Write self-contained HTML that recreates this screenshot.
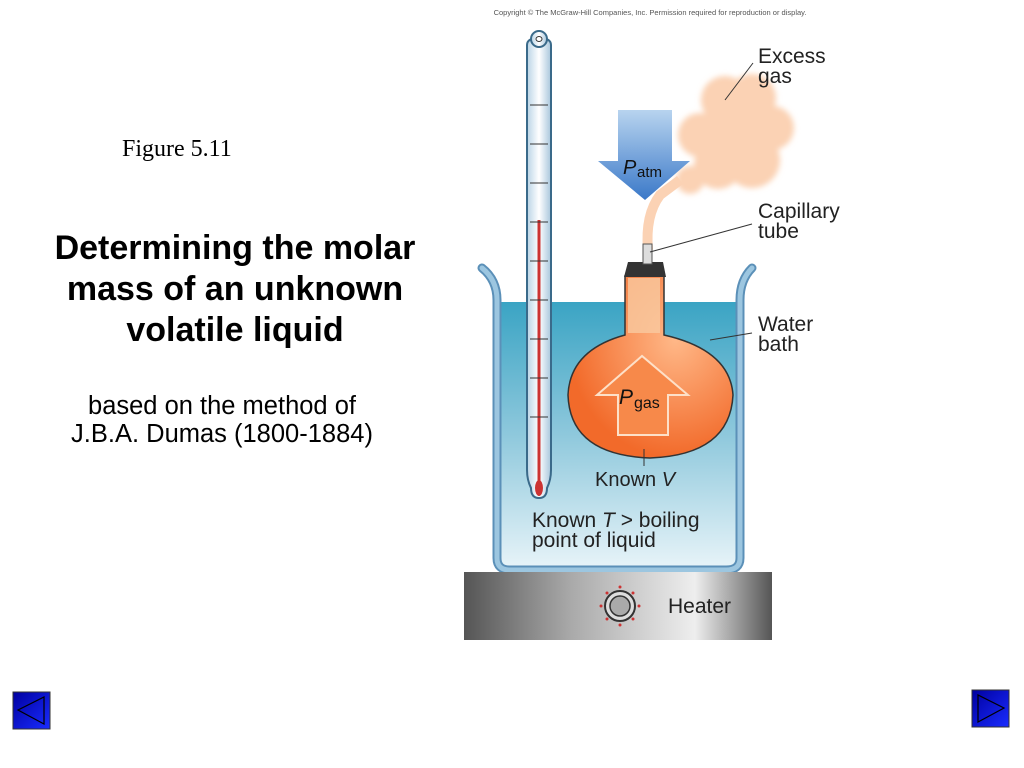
<!DOCTYPE html>
<html><head><style>
html,body{margin:0;padding:0;background:#fff;}
body{width:1024px;height:768px;position:relative;overflow:hidden;font-family:"Liberation Sans",sans-serif;}
.t{position:absolute;text-align:center;}
</style></head><body>
<div class="t" style="left:122px;top:136px;font-family:'Liberation Serif',serif;font-size:24px;">Figure 5.11</div>
<div class="t" style="left:15px;top:228px;width:440px;font-size:34px;font-weight:bold;line-height:41px;">Determining the molar mass of an unknown volatile liquid</div>
<div class="t" style="left:20px;top:392px;width:404px;font-size:25.5px;line-height:28px;">based on the method of<br>J.B.A. Dumas (1800-1884)</div>
<svg width="1024" height="768" style="position:absolute;left:0;top:0" font-family="Liberation Sans, sans-serif">
<defs>
<linearGradient id="water" x1="0" y1="0" x2="0" y2="1"><stop offset="0" stop-color="#3aa4c4"/><stop offset="0.5" stop-color="#8ec8dc"/><stop offset="1" stop-color="#e6f3f8"/></linearGradient>
<linearGradient id="heat" x1="0" y1="0" x2="1" y2="0"><stop offset="0" stop-color="#555"/><stop offset="0.35" stop-color="#aaa"/><stop offset="0.75" stop-color="#eee"/><stop offset="1" stop-color="#555"/></linearGradient>
<radialGradient id="bulb" cx="0.65" cy="0.35" r="0.65"><stop offset="0" stop-color="#ffb888"/><stop offset="1" stop-color="#f26a2a"/></radialGradient>
<linearGradient id="arr" x1="0" y1="0" x2="0" y2="1"><stop offset="0" stop-color="#b8d4ef"/><stop offset="1" stop-color="#3a78c8"/></linearGradient>
<linearGradient id="therm" x1="0" y1="0" x2="1" y2="0"><stop offset="0" stop-color="#b9d4e6"/><stop offset="0.5" stop-color="#fff"/><stop offset="1" stop-color="#a8c6dc"/></linearGradient>
<linearGradient id="btn" x1="0" y1="0" x2="1" y2="1"><stop offset="0" stop-color="#0000a0"/><stop offset="1" stop-color="#1a2cff"/></linearGradient>
<filter id="blur"><feGaussianBlur stdDeviation="3"/></filter>
</defs>
<text x="650" y="15" font-size="7.5" fill="#555" text-anchor="middle">Copyright © The McGraw-Hill Companies, Inc. Permission required for reproduction or display.</text>
<g fill="#fbd2b4" filter="url(#blur)">
<circle cx="725" cy="100" r="24"/><circle cx="752" cy="98" r="24"/><circle cx="772" cy="128" r="22"/><circle cx="752" cy="160" r="28"/><circle cx="718" cy="165" r="24"/><circle cx="700" cy="135" r="22"/><circle cx="738" cy="130" r="32"/><circle cx="690" cy="180" r="14"/>
</g>
<path d="M648 250 Q645 215 660 195 L680 180" stroke="#fbd2b4" stroke-width="10" fill="none"/>
<line x1="725" y1="100" x2="753" y2="63" stroke="#333" stroke-width="1"/>
<path d="M618 110 H672 V161 H690 L645 200 L598 161 H618 Z" fill="url(#arr)"/>
<text x="623" y="174" font-size="20" font-style="italic" fill="#111">P</text><text x="637" y="177" font-size="15" fill="#111">atm</text>
<path d="M493 302 H740 V555 Q740 566 728 566 H508 Q497 566 497 555 Z" fill="url(#water)"/>
<path d="M482 268 Q497 280 497 300 V558 Q497 570 510 570 H726 Q740 570 740 558 V300 Q740 280 752 268" fill="none" stroke="#5b90b8" stroke-width="9" stroke-linecap="round"/>
<path d="M482 268 Q497 280 497 300 V558 Q497 570 510 570 H726 Q740 570 740 558 V300 Q740 280 752 268" fill="none" stroke="#9cc6e0" stroke-width="5" stroke-linecap="round"/>
<rect x="464" y="572" width="308" height="68" fill="url(#heat)"/>
<circle cx="620" cy="606" r="15" fill="#ddd" stroke="#333" stroke-width="2"/>
<circle cx="620" cy="606" r="10" fill="#aaa" stroke="#333" stroke-width="1.5"/>
<g fill="#c33"><circle cx="620" cy="587" r="1.5"/><circle cx="639" cy="606" r="1.5"/><circle cx="601" cy="606" r="1.5"/><circle cx="633" cy="593" r="1.5"/><circle cx="607" cy="593" r="1.5"/><circle cx="633" cy="619" r="1.5"/><circle cx="607" cy="619" r="1.5"/><circle cx="620" cy="625" r="1.5"/></g>
<text x="668" y="613" font-size="21" fill="#222">Heater</text>
<path d="M625 276 V335 Q570 350 568 395 Q570 455 650 458 Q730 455 733 395 Q730 350 664 335 V276 Z" fill="url(#bulb)" stroke="#333" stroke-width="1.5"/>
<rect x="628" y="278" width="32" height="55" fill="#f9c9a0" opacity="0.8"/>
<path d="M628 262 H663 L666 277 H624 Z" fill="#333"/>
<rect x="643" y="244" width="9" height="20" fill="#ddd" stroke="#555" stroke-width="1"/>
<line x1="650" y1="252" x2="752" y2="224" stroke="#333" stroke-width="1"/>
<path d="M618 435 V395 H597 L642 356 L688 395 H668 V435 Z" fill="#f7894a" stroke="#fde0c8" stroke-width="2"/>
<text x="619" y="404" font-size="21" font-style="italic" fill="#111">P</text><text x="634" y="408" font-size="16" fill="#111">gas</text>
<line x1="644" y1="449" x2="644" y2="466" stroke="#333"/>
<text x="595" y="486" font-size="20" fill="#222">Known <tspan font-style="italic">V</tspan></text>
<line x1="710" y1="340" x2="752" y2="333" stroke="#333"/>
<text x="532" y="527" font-size="21" fill="#222">Known <tspan font-style="italic">T</tspan> &gt; boiling</text>
<text x="532" y="547" font-size="21" fill="#222">point of liquid</text>
<path d="M527 45 V470 Q527 480 531 488 Q531 498 539 498 Q547 498 547 488 Q551 480 551 470 V45 Q551 38 539 38 Q527 38 527 45 Z" fill="url(#therm)" stroke="#3a6a8a" stroke-width="2"/>
<circle cx="539" cy="39" r="8" fill="url(#therm)" stroke="#3a6a8a" stroke-width="2"/>
<ellipse cx="539" cy="39" rx="3" ry="2.5" fill="#fff" stroke="#333"/>
<line x1="539" y1="220" x2="539" y2="485" stroke="#c33" stroke-width="3"/>
<ellipse cx="539" cy="488" rx="4" ry="8" fill="#c33"/>
<g stroke="#333" stroke-width="1"><line x1="530" y1="105" x2="548" y2="105"/><line x1="530" y1="144" x2="548" y2="144"/><line x1="530" y1="183" x2="548" y2="183"/><line x1="530" y1="222" x2="548" y2="222"/><line x1="530" y1="261" x2="548" y2="261"/><line x1="530" y1="300" x2="548" y2="300"/><line x1="530" y1="339" x2="548" y2="339"/><line x1="530" y1="378" x2="548" y2="378"/><line x1="530" y1="417" x2="548" y2="417"/></g>
<text x="758" y="63" font-size="21" fill="#222">Excess</text><text x="758" y="83" font-size="21" fill="#222">gas</text>
<text x="758" y="218" font-size="21" fill="#222">Capillary</text><text x="758" y="238" font-size="21" fill="#222">tube</text>
<text x="758" y="331" font-size="21" fill="#222">Water</text><text x="758" y="351" font-size="21" fill="#222">bath</text>
<rect x="13" y="692" width="37" height="37" fill="url(#btn)" stroke="#333"/>
<path d="M44 697 V724 L18 710 Z" fill="none" stroke="#000" stroke-width="1.2"/>
<rect x="972" y="690" width="37" height="37" fill="url(#btn)" stroke="#333"/>
<path d="M978 695 V722 L1004 708 Z" fill="none" stroke="#000" stroke-width="1.2"/>
</svg>
</body></html>
